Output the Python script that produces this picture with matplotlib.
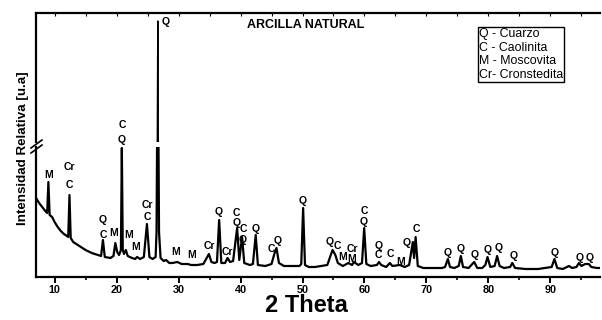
import matplotlib.pyplot as plt
from matplotlib.lines import Line2D

plt.rcParams['font.family'] = ['Liberation Sans', 'DejaVu Sans']

# diffractogram (2theta, relative intensity)
two_theta = [7.0, 7.5, 8.0, 8.5, 8.8, 9.0, 9.2, 9.6, 10.0, 10.5, 11.0, 11.5, 12.0, 12.2,
             12.4, 12.6, 13.0, 14.0, 15.0, 16.0, 17.0, 17.5, 17.8, 18.1, 19.0, 19.5,
             19.8, 20.1, 20.4, 20.7, 20.85, 21.0, 21.2, 21.5, 21.8, 22.5, 23.0, 23.3,
             23.8, 24.4, 24.9, 25.3, 25.8, 26.3, 26.45, 26.57, 26.65, 26.73, 26.85,
             27.1, 27.6, 28.0,
             28.5, 29.0, 29.8, 30.5, 31.5, 32.0, 33.0, 34.0, 34.9, 35.3, 35.8, 36.2,
             36.55, 36.9, 37.5, 37.9, 38.3, 38.8, 39.45, 39.8, 40.25, 40.6, 41.5, 42.0,
             42.45, 42.8, 44.0, 45.0, 45.5, 45.8, 46.2, 47.0, 48.0, 49.5, 49.8, 50.1,
             50.4, 51.0, 52.0, 53.0, 54.0, 54.85, 55.3, 55.7, 56.5, 57.4, 58.0, 58.3,
             59.0, 59.6, 59.95, 60.3, 61.0, 62.0, 62.35, 62.7, 63.5, 64.1, 64.5, 65.7,
             66.5, 67.2, 67.8, 68.0, 68.25, 68.6, 69.5, 71.0, 72.5, 73.0, 73.45, 73.8,
             74.5, 75.2, 75.55, 75.9, 76.8, 77.7, 78.2, 79.0, 79.5, 79.85, 80.3, 81.0,
             81.4, 81.8, 82.5, 83.5, 83.85, 84.3, 86.0, 88.0, 90.2, 90.65, 91.1, 92.0,
             93.0, 93.5, 94.2, 94.6, 95.0, 95.6, 96.2, 96.6, 97.5, 98.0]
intensity = [79, 74, 70, 66, 64, 95, 62, 60, 55, 50, 46, 43, 41, 40,
             82, 39, 35, 31, 27, 24, 22, 21, 37, 20, 19, 21,
             34, 25, 22, 27, 129, 27, 23, 27, 21, 19, 18, 20,
             18, 20, 53, 20, 18, 20, 45, 170, 1000, 170, 45,
             19, 16, 17,
             14, 14, 15, 13, 13, 12, 12, 13, 23, 15, 14, 15,
             57, 14, 14, 19, 15, 16, 49, 17, 40, 14, 12, 13,
             42, 12, 11, 13, 24, 29, 14, 11, 11, 11, 13, 69,
             12, 10, 10, 11, 12, 27, 22, 14, 11, 14, 12, 15,
             12, 14, 49, 13, 11, 12, 15, 12, 10, 14, 11, 12,
             10, 12, 35, 19, 40, 11, 9, 9, 9, 10, 18, 10,
             9, 11, 21, 10, 9, 15, 9, 9, 12, 20, 10, 11,
             21, 11, 9, 10, 14, 9, 8, 8, 10, 18, 9, 8,
             11, 9, 10, 14, 11, 13, 13, 10, 9, 9]

# phase labels: position, text, height
label_x = [9.0, 12.4, 12.4, 17.8, 17.8, 19.6, 22.0, 23.1, 20.85, 20.85, 24.9, 24.9,
           29.6, 32.1, 34.9, 36.5, 37.9, 39.3, 39.3, 40.4, 40.4, 42.4, 45.0, 46.0,
           50.0, 54.3, 55.6, 56.5, 58.0, 58.0, 59.9, 59.9, 62.3, 62.3, 64.2, 65.8,
           66.8, 68.3, 73.4, 75.5, 77.7, 79.8, 81.6, 84.0, 90.7, 94.7, 96.4]
label_txt = ['M', 'Cr', 'C', 'Q', 'C', 'M', 'M', 'M', 'C', 'Q', 'Cr', 'C',
             'M', 'M', 'Cr', 'Q', 'Cr', 'C', 'Q', 'C', 'Q', 'Q', 'C', 'Q',
             'Q', 'Q', 'C', 'M', 'Cr', 'M', 'C', 'Q', 'Q', 'C', 'C', 'M',
             'Q', 'C', 'Q', 'Q', 'Q', 'Q', 'Q', 'Q', 'Q', 'Q', 'Q']
label_h = [102, 110, 92, 57, 42, 44, 42, 30, 152, 137, 72, 60,
           25, 22, 31, 65, 25, 64, 54, 48, 37, 48, 28, 36,
           76, 35, 31, 20, 28, 18, 66, 55, 31, 22, 23, 15,
           34, 48, 24, 28, 22, 27, 29, 21, 24, 19, 19]

legend_lines = ['Q - Cuarzo', 'C - Caolinita', 'M - Moscovita', 'Cr- Cronstedita']

fig = plt.figure(figsize=(6.02, 3.2), dpi=100)
L, R = 36 / 602, 600 / 602
lo = fig.add_axes([L, 43 / 320, R - L, 130 / 320])
hi = fig.add_axes([L, 178 / 320, R - L, 129 / 320])
hi.patch.set_visible(False)

for ax, lw in ((lo, 1.6), (hi, 1.0)):
    ax.plot(two_theta, intensity, color='black', lw=lw, solid_joinstyle='round')
    ax.set_xlim(7, 98)
    ax.spines['right'].set_visible(False)
    ax.set_yticks([])
    ax.spines['left'].set_linewidth(1.6)

lo.set_ylim(0, 130)
hi.set_ylim(150, 1056)
lo.spines['top'].set_visible(False)
hi.spines['bottom'].set_visible(False)
lo.spines['bottom'].set_linewidth(1.6)
hi.spines['top'].set_linewidth(1.6)

lo.set_xticks(range(10, 100, 10))
lo.set_xticks(range(15, 100, 10), minor=True)
lo.tick_params(axis='x', which='major', length=4, width=1.4, labelsize=7.8, pad=2)
lo.tick_params(axis='x', which='minor', length=2.5, width=1.2)
for t in lo.get_xticklabels():
    t.set_fontweight('bold')
lo.set_xlabel('2 Theta', fontsize=17, fontweight='bold', labelpad=0)
lo.xaxis.set_label_coords((306 - 36) / 564, -0.13)

hi.set_xticks(range(10, 100, 5))
hi.tick_params(axis='x', which='major', direction='in', length=2, width=0.8,
               labelbottom=False, bottom=False, top=True)

for x, s, h in zip(label_x, label_txt, label_h):
    lo.text(x, h, s, ha='center', va='center', fontsize=7.5, fontweight='bold',
            clip_on=False)
hi.text(27.3, 990, 'Q', ha='left', va='center', fontsize=7.5, fontweight='bold')

hi.text((306 - 36) / 564, 0.91, 'ARCILLA NATURAL', transform=hi.transAxes,
        ha='center', va='center', fontsize=9.0, fontweight='bold')

hi.text((479 - 36) / 564, 0.885, '\n'.join(legend_lines), transform=hi.transAxes,
        ha='left', va='top', fontsize=8.9, linespacing=1.2,
        bbox=dict(boxstyle='square,pad=0.1', fc='white', ec='black', lw=1))

fig.text(0.038, 0.537, 'Intensidad Relativa [u.a]', rotation=90, ha='center',
         va='center', fontsize=9.6, fontweight='bold')

# axis break marks
for dy in (-3, 2):
    y0 = (320 - 146 + dy) / 320
    fig.add_artist(Line2D([31 / 602, 42 / 602], [y0 - 4 / 320, y0 + 4 / 320],
                          color='black', lw=1.2))

fig.savefig('out.png', dpi=100)
